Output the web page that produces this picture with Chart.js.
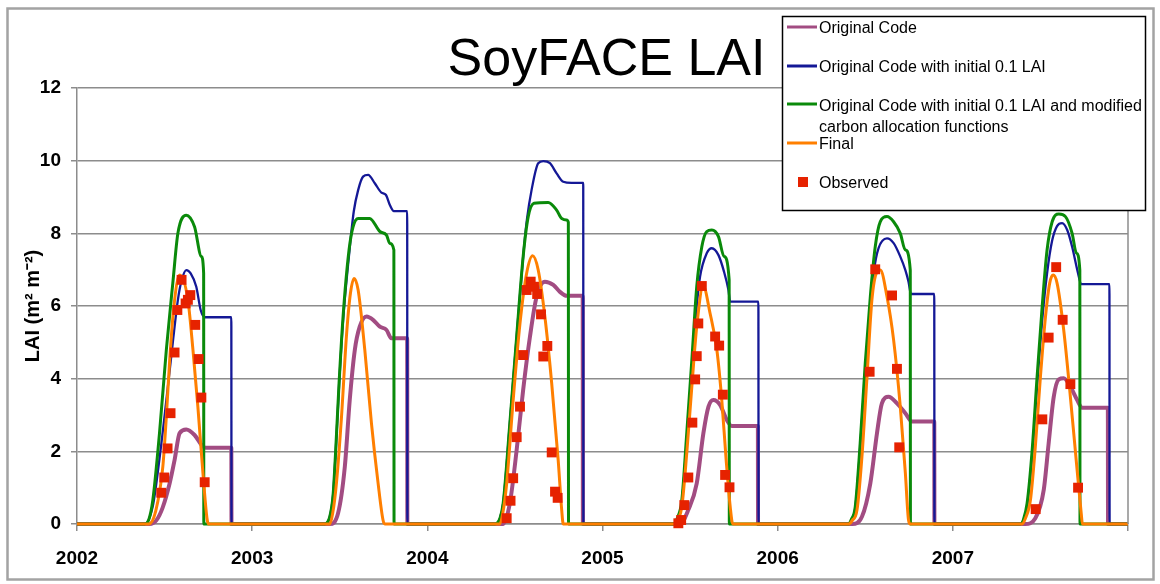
<!DOCTYPE html>
<html>
<head>
<meta charset="utf-8">
<title>SoyFACE LAI</title>
<script src="https://cdn.jsdelivr.net/npm/chart.js@4.4.1/dist/chart.umd.min.js"></script>
<style>
  html, body { margin: 0; padding: 0; background: #fff; }
  #wrap { width: 1160px; height: 584px; }
</style>
</head>
<body>
<div id="wrap"><canvas id="laiChart" width="1160" height="584"></canvas></div>
<script>
// x axis ticks (years) and y range
const yearTicks = [2002, 2003, 2004, 2005, 2006, 2007];
const yMin = 0, yMax = 12, yStep = 2;

// series: [decimal year, LAI]
const originalCode = [
  [2002, 0],
  [2002.414, 0], [2002.453, 0.1], [2002.489, 0.45], [2002.529, 1.12], [2002.557, 1.76], [2002.586, 2.5], [2002.624, 2.6], [2002.671, 2.45], [2002.719, 2.13], [2002.734, 2.1], [2002.881, 2.1], [2002.882, 0],
  [2003.443, 0], [2003.490, 0.29], [2003.529, 1.58], [2003.557, 3.41], [2003.586, 4.79], [2003.614, 5.43], [2003.653, 5.71], [2003.690, 5.62], [2003.729, 5.43], [2003.767, 5.34], [2003.795, 5.11], [2003.885, 5.11], [2003.886, 0],
  [2004.431, 0], [2004.471, 0.57], [2004.510, 2.04], [2004.547, 3.69], [2004.586, 5.16], [2004.624, 6.26], [2004.671, 6.67], [2004.719, 6.58], [2004.757, 6.39], [2004.795, 6.28], [2004.887, 6.28], [2004.888, 0],
  [2005.443, 0], [2005.490, 0.39], [2005.538, 1.12], [2005.576, 2.5], [2005.605, 3.23], [2005.633, 3.41], [2005.671, 3.28], [2005.710, 2.86], [2005.738, 2.7], [2005.887, 2.7], [2005.888, 0],
  [2006.426, 0], [2006.481, 0.2], [2006.529, 1.12], [2006.567, 2.5], [2006.595, 3.32], [2006.633, 3.5], [2006.681, 3.32], [2006.729, 3.05], [2006.767, 2.82], [2006.894, 2.82], [2006.895, 0],
  [2007.414, 0], [2007.471, 0.16], [2007.519, 0.94], [2007.547, 2.22], [2007.576, 3.5], [2007.605, 3.98], [2007.633, 4.01], [2007.671, 3.78], [2007.710, 3.41], [2007.738, 3.2], [2007.885, 3.2], [2007.886, 0],
  [2008, 0]
];

const initialLai = [
  [2002, 0],
  [2002.386, 0], [2002.433, 0.5], [2002.471, 1.8], [2002.510, 3.4], [2002.547, 5.0], [2002.576, 6.17], [2002.597, 6.7], [2002.624, 6.99], [2002.649, 6.9], [2002.681, 6.53], [2002.706, 5.89], [2002.729, 5.69], [2002.881, 5.69], [2002.882, 0],
  [2003.414, 0], [2003.443, 0.2], [2003.462, 0.8], [2003.477, 2.0], [2003.496, 3.8], [2003.519, 5.6], [2003.553, 7.4], [2003.580, 8.6], [2003.605, 9.19], [2003.633, 9.56], [2003.662, 9.61], [2003.700, 9.38], [2003.738, 9.12], [2003.763, 9.06], [2003.786, 8.78], [2003.809, 8.61], [2003.885, 8.61], [2003.886, 0],
  [2004.386, 0], [2004.414, 0.15], [2004.433, 0.57], [2004.471, 2.77], [2004.510, 5.16], [2004.547, 7.36], [2004.569, 8.4], [2004.595, 9.19], [2004.633, 9.93], [2004.662, 9.99], [2004.700, 9.93], [2004.738, 9.65], [2004.776, 9.42], [2004.824, 9.39], [2004.890, 9.39], [2004.891, 0],
  [2005.405, 0], [2005.426, 0.12], [2005.453, 0.6], [2005.481, 2.3], [2005.510, 4.3], [2005.538, 6.0], [2005.557, 6.81], [2005.595, 7.45], [2005.624, 7.59], [2005.662, 7.4], [2005.694, 6.94], [2005.719, 6.44], [2005.729, 6.12], [2005.890, 6.12], [2005.891, 0],
  [2006.405, 0], [2006.420, 0.1], [2006.443, 0.45], [2006.471, 2.1], [2006.500, 4.2], [2006.529, 5.9], [2006.551, 7.0], [2006.576, 7.59], [2006.624, 7.86], [2006.662, 7.73], [2006.700, 7.36], [2006.729, 6.99], [2006.747, 6.67], [2006.761, 6.33], [2006.894, 6.33], [2006.895, 0],
  [2007.386, 0], [2007.403, 0.1], [2007.424, 0.5], [2007.453, 1.9], [2007.481, 3.8], [2007.510, 5.6], [2007.538, 6.9], [2007.567, 7.8], [2007.595, 8.2], [2007.624, 8.28], [2007.653, 8.09], [2007.681, 7.63], [2007.713, 6.94], [2007.733, 6.6], [2007.894, 6.6], [2007.895, 0],
  [2008, 0]
];

const modifiedAlloc = [
  [2002, 0],
  [2002.386, 0], [2002.410, 0.12], [2002.433, 0.66], [2002.471, 2.5], [2002.510, 4.79], [2002.547, 6.63], [2002.576, 8.0], [2002.624, 8.5], [2002.671, 8.18], [2002.710, 7.36], [2002.723, 6.9], [2002.724, 0],
  [2003.414, 0], [2003.443, 0.2], [2003.462, 0.8], [2003.477, 2.04], [2003.496, 3.87], [2003.519, 5.71], [2003.553, 7.54], [2003.576, 8.18], [2003.605, 8.41], [2003.671, 8.41], [2003.729, 8.05], [2003.767, 7.95], [2003.786, 7.72], [2003.809, 7.54], [2003.810, 0],
  [2004.386, 0], [2004.414, 0.15], [2004.433, 0.57], [2004.471, 2.77], [2004.510, 5.16], [2004.547, 7.36], [2004.576, 8.46], [2004.609, 8.83], [2004.690, 8.85], [2004.738, 8.64], [2004.767, 8.41], [2004.795, 8.37], [2004.805, 8.3], [2004.806, 0],
  [2005.405, 0], [2005.426, 0.15], [2005.453, 0.66], [2005.481, 2.5], [2005.510, 4.51], [2005.538, 6.53], [2005.567, 7.63], [2005.595, 8.05], [2005.624, 8.09], [2005.662, 7.91], [2005.694, 7.36], [2005.723, 6.72], [2005.724, 0],
  [2006.405, 0], [2006.420, 0.12], [2006.443, 0.48], [2006.471, 2.22], [2006.500, 4.42], [2006.529, 6.26], [2006.557, 7.63], [2006.586, 8.32], [2006.624, 8.46], [2006.662, 8.32], [2006.700, 8.0], [2006.729, 7.54], [2006.757, 6.99], [2006.758, 0],
  [2007.386, 0], [2007.403, 0.12], [2007.424, 0.57], [2007.453, 2.04], [2007.481, 4.05], [2007.510, 5.98], [2007.538, 7.54], [2007.567, 8.32], [2007.605, 8.53], [2007.643, 8.46], [2007.681, 8.0], [2007.706, 7.45], [2007.725, 6.99], [2007.726, 0],
  [2008, 0]
];

const finalRun = [
  [2002, 0],
  [2002.409, 0], [2002.449, 0.35], [2002.490, 1.58], [2002.510, 2.95], [2002.529, 4.5], [2002.553, 5.98], [2002.586, 6.85], [2002.633, 6.17], [2002.662, 4.79], [2002.690, 3.23], [2002.719, 1.4], [2002.742, 0.16], [2002.751, 0],
  [2003.443, 0], [2003.460, 0.3], [2003.481, 1.12], [2003.510, 2.95], [2003.538, 5.16], [2003.561, 6.35], [2003.582, 6.76], [2003.605, 6.44], [2003.643, 4.79], [2003.681, 2.77], [2003.719, 1.12], [2003.747, 0.11], [2003.757, 0],
  [2004.414, 0], [2004.431, 0.3], [2004.453, 1.12], [2004.490, 3.41], [2004.529, 5.52], [2004.567, 6.9], [2004.601, 7.38], [2004.633, 6.99], [2004.671, 5.71], [2004.710, 3.87], [2004.747, 1.76], [2004.767, 0.39], [2004.776, 0],
  [2005.414, 0], [2005.432, 0.12], [2005.453, 0.48], [2005.481, 1.95], [2005.510, 3.78], [2005.538, 5.43], [2005.575, 6.55], [2005.614, 5.8], [2005.653, 4.79], [2005.681, 3.41], [2005.706, 1.76], [2005.729, 0.48], [2005.744, 0],
  [2006.405, 0], [2006.426, 0.1], [2006.453, 0.39], [2006.481, 1.85], [2006.510, 4.05], [2006.538, 6.17], [2006.567, 6.94], [2006.586, 6.99], [2006.624, 6.26], [2006.662, 5.06], [2006.700, 3.23], [2006.729, 1.4], [2006.747, 0.11], [2006.757, 0],
  [2007.395, 0], [2007.414, 0.15], [2007.443, 0.66], [2007.471, 2.13], [2007.500, 4.05], [2007.529, 5.71], [2007.553, 6.63], [2007.573, 6.85], [2007.595, 6.63], [2007.633, 5.34], [2007.671, 3.5], [2007.706, 1.67], [2007.733, 0.29], [2007.740, 0],
  [2008, 0]
];

const observed = [
  [2002.597, 6.72], [2002.647, 6.30], [2002.633, 6.17], [2002.620, 6.07], [2002.573, 5.89], [2002.675, 5.48], [2002.557, 4.72], [2002.694, 4.54], [2002.534, 3.05], [2002.710, 3.48], [2002.517, 2.08], [2002.498, 1.28], [2002.481, 0.86], [2002.729, 1.15],
  [2004.590, 6.67], [2004.567, 6.44], [2004.609, 6.53], [2004.627, 6.33], [2004.649, 5.77], [2004.685, 4.9], [2004.662, 4.61], [2004.547, 4.65], [2004.529, 3.23], [2004.510, 2.39], [2004.490, 1.26], [2004.475, 0.64], [2004.453, 0.16], [2004.710, 1.97], [2004.729, 0.89], [2004.744, 0.72],
  [2005.567, 6.55], [2005.547, 5.52], [2005.643, 5.16], [2005.666, 4.91], [2005.538, 4.62], [2005.529, 3.98], [2005.687, 3.56], [2005.513, 2.79], [2005.700, 1.35], [2005.725, 1.01], [2005.490, 1.28], [2005.467, 0.52], [2005.449, 0.11], [2005.433, 0.02],
  [2006.557, 7.01], [2006.653, 6.29], [2006.525, 4.19], [2006.681, 4.27], [2006.694, 2.11],
  [2007.590, 7.07], [2007.627, 5.62], [2007.547, 5.13], [2007.671, 3.85], [2007.511, 2.88], [2007.715, 1.0], [2007.473, 0.41]
];

const seriesLabels = [
  ['Original Code'],
  ['Original Code with initial 0.1 LAI'],
  ['Original Code with initial 0.1 LAI and modified', 'carbon allocation functions'],
  ['Final'],
  ['Observed']
];

const FONT = '"Liberation Sans", Arial, sans-serif';
const toXY = arr => arr.map(p => ({ x: p[0], y: p[1] }));

function lineSet(label, data, color, width, order) {
  return {
    type: 'line', label, data: toXY(data), borderColor: color, backgroundColor: color,
    borderWidth: width, pointRadius: 0, cubicInterpolationMode: 'monotone',
    fill: false, order, clip: false
  };
}

// white page, frame, title, legend box
const decorPlugin = {
  id: 'decor',
  beforeDraw(chart) {
    const c = chart.ctx;
    c.save();
    c.fillStyle = '#fff';
    c.fillRect(0, 0, chart.width, chart.height);
    c.restore();
  },
  afterDraw(chart) {
    const c = chart.ctx, a = chart.chartArea;
    c.save();
    // plot area right border
    c.strokeStyle = '#8c8c8c';
    c.lineWidth = 1.5;
    c.beginPath();
    c.moveTo(a.right, a.top);
    c.lineTo(a.right, a.bottom);
    c.stroke();

    // outer frame
    c.strokeStyle = '#a3a3a3';
    c.lineWidth = 2.5;
    c.strokeRect(7.5, 8.5, 1146, 571);

    // title
    c.fillStyle = '#000';
    c.font = '52px ' + FONT;
    c.textAlign = 'center';
    c.textBaseline = 'alphabetic';
    c.fillText('SoyFACE LAI', (a.left + a.right) / 2 + 4, 75);

    // legend
    c.fillStyle = '#fff';
    c.fillRect(782, 16, 364, 195);
    c.strokeStyle = '#000';
    c.lineWidth = 1.5;
    c.strokeRect(782.5, 16.5, 363, 194);
    const rows = [27, 66, 104, 143, 182];
    const textRows = [[29], [68], [107, 128], [145], [184]];
    const ds = chart.data.datasets;
    const byOrder = [4, 3, 2, 1, 0];
    c.font = '16px ' + FONT;
    c.textAlign = 'left';
    c.textBaseline = 'middle';
    seriesLabels.forEach((lines, i) => {
      const d = ds.find(s => s.order === byOrder[i]);
      if (i < 4) {
        c.strokeStyle = d.borderColor;
        c.lineWidth = 3;
        c.beginPath();
        c.moveTo(787, rows[i]);
        c.lineTo(817, rows[i]);
        c.stroke();
      } else {
        c.fillStyle = d.backgroundColor;
        c.fillRect(798, rows[i] - 5, 10, 10);
      }
      c.fillStyle = '#000';
      lines.forEach((t, k) => c.fillText(t, 819, textRows[i][k]));
    });
    c.restore();
  }
};

new Chart(document.getElementById('laiChart'), {
  data: {
    datasets: [
      {
        type: 'scatter', label: 'Observed', data: toXY(observed),
        backgroundColor: '#e62200', borderColor: '#e62200', borderWidth: 0,
        pointStyle: 'rect', pointRadius: 7, order: 0, clip: false
      },
      lineSet('Final', finalRun, '#ff7f00', 3, 1),
      lineSet('Original Code with initial 0.1 LAI and modified carbon allocation functions', modifiedAlloc, '#0a8a0a', 3, 2),
      lineSet('Original Code with initial 0.1 LAI', initialLai, '#141896', 2.3, 3),
      lineSet('Original Code', originalCode, '#a24c82', 4, 4)
    ]
  },
  options: {
    responsive: false,
    animation: false,
    devicePixelRatio: 1,
    layout: { padding: { left: 7, right: 32, top: 88, bottom: 20 } },
    plugins: { legend: { display: false }, title: { display: false }, tooltip: { enabled: false } },
    scales: {
      x: {
        type: 'linear', min: 2002, max: 2008,
        afterFit: s => { s.height = 40; },
        afterBuildTicks: s => { s.ticks = yearTicks.concat([2008]).map(v => ({ value: v })); },
        ticks: {
          color: '#000', font: { family: FONT, size: 19, weight: 'bold' }, padding: 16,
          maxRotation: 0, autoSkip: false,
          callback: v => (yearTicks.includes(v) ? String(v) : '')
        },
        grid: { drawOnChartArea: false, drawTicks: true, tickLength: 7, color: '#8c8c8c', lineWidth: 1.5 },
        border: { display: true, color: '#8c8c8c', width: 1.5 }
      },
      y: {
        min: yMin, max: yMax,
        afterFit: s => { s.width = 70; },
        ticks: { stepSize: yStep, color: '#000', font: { family: FONT, size: 19, weight: 'bold' }, padding: 10 },
        grid: { color: '#8c8c8c', lineWidth: 1.5, tickLength: 6 },
        border: { display: true, color: '#8c8c8c', width: 1.5 },
        title: {
          display: true, text: 'LAI (m² m⁻²)', color: '#000',
          font: { family: FONT, size: 20, weight: 'bold' }, padding: { top: 14, bottom: 0 }
        }
      }
    }
  },
  plugins: [decorPlugin]
});
</script>
</body>
</html>
